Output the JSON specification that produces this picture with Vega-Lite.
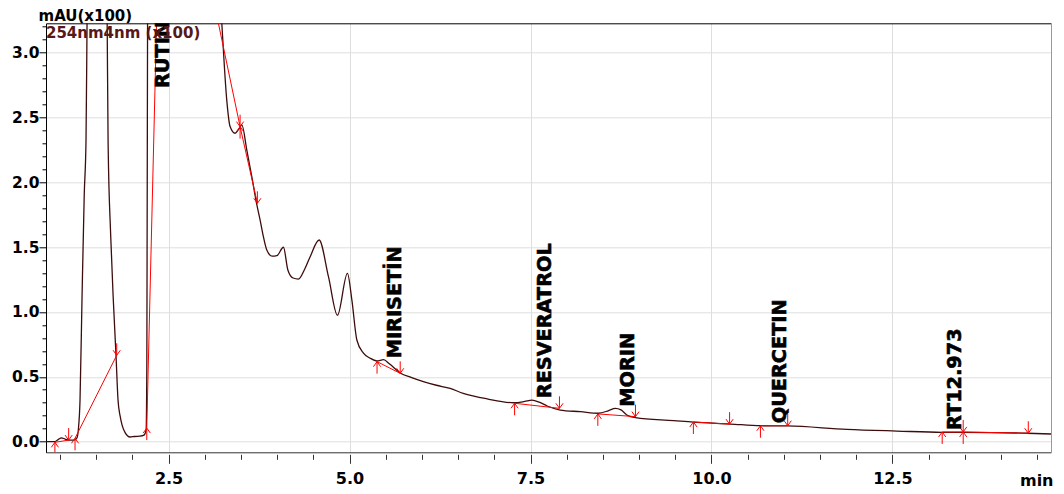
{
  "$schema": "https://vega.github.io/schema/vega-lite/v6.json",
  "autosize": {"type": "none"},
  "padding": {"left": 46, "top": 23.3, "right": 13, "bottom": 41.7},
  "width": 1005,
  "height": 429,
  "background": "white",
  "title": {
    "text": "254nm4nm (x100)",
    "anchor": "start",
    "frame": "group",
    "color": "#561818",
    "font": "DejaVu Sans",
    "fontSize": 15,
    "fontWeight": "bold",
    "offset": -32
  },
  "config": {
    "view": {"stroke": null},
    "axis": {
      "labelFont": "DejaVu Sans",
      "labelFontSize": 15.5,
      "labelFontWeight": "bold",
      "labelColor": "black",
      "titleFont": "DejaVu Sans",
      "titleFontSize": 15,
      "titleFontWeight": "bold",
      "titleColor": "black",
      "gridColor": "#dedede",
      "gridWidth": 1
    }
  },
  "datasets": {
    "trace": [
      {"t": 0.807, "v": 0.0}, {"t": 0.93, "v": 0.0}, {"t": 0.98, "v": 0.018}, {"t": 1.02, "v": 0.03},
      {"t": 1.07, "v": 0.02}, {"t": 1.12, "v": 0.012}, {"t": 1.19, "v": 0.012}, {"t": 1.235, "v": 0.03},
      {"t": 1.255, "v": 0.1}, {"t": 1.277, "v": 0.32}, {"t": 1.304, "v": 1.09}, {"t": 1.335, "v": 1.9},
      {"t": 1.36, "v": 2.33}, {"t": 1.374, "v": 3.23}, {"t": 1.4, "v": 5.0}, {"t": 1.51, "v": 8.5},
      {"t": 1.62, "v": 5.0}, {"t": 1.652, "v": 3.23}, {"t": 1.665, "v": 2.3}, {"t": 1.7, "v": 1.6},
      {"t": 1.737, "v": 1.09}, {"t": 1.774, "v": 0.667}, {"t": 1.802, "v": 0.32}, {"t": 1.83, "v": 0.2},
      {"t": 1.857, "v": 0.13}, {"t": 1.9, "v": 0.07}, {"t": 1.968, "v": 0.036}, {"t": 2.03, "v": 0.04},
      {"t": 2.106, "v": 0.042}, {"t": 2.16, "v": 0.05}, {"t": 2.19, "v": 0.09}, {"t": 2.2, "v": 0.6},
      {"t": 2.21, "v": 3.23}, {"t": 2.25, "v": 7.0}, {"t": 2.4, "v": 12.0}, {"t": 2.6, "v": 11.0},
      {"t": 2.8, "v": 8.0}, {"t": 3.0, "v": 5.5}, {"t": 3.15, "v": 4.0}, {"t": 3.235, "v": 3.23},
      {"t": 3.304, "v": 2.634}, {"t": 3.35, "v": 2.43}, {"t": 3.419, "v": 2.378}, {"t": 3.47, "v": 2.41},
      {"t": 3.512, "v": 2.442}, {"t": 3.581, "v": 2.249}, {"t": 3.65, "v": 2.043}, {"t": 3.72, "v": 1.825},
      {"t": 3.765, "v": 1.709}, {"t": 3.81, "v": 1.581}, {"t": 3.857, "v": 1.478}, {"t": 3.93, "v": 1.43},
      {"t": 3.996, "v": 1.434}, {"t": 4.087, "v": 1.499}, {"t": 4.148, "v": 1.324}, {"t": 4.22, "v": 1.262},
      {"t": 4.294, "v": 1.254}, {"t": 4.38, "v": 1.33}, {"t": 4.456, "v": 1.426}, {"t": 4.58, "v": 1.555},
      {"t": 4.709, "v": 1.272}, {"t": 4.833, "v": 0.975}, {"t": 4.971, "v": 1.298}, {"t": 5.032, "v": 1.093},
      {"t": 5.101, "v": 0.784}, {"t": 5.192, "v": 0.682}, {"t": 5.28, "v": 0.645}, {"t": 5.378, "v": 0.622},
      {"t": 5.47, "v": 0.632}, {"t": 5.55, "v": 0.6}, {"t": 5.7, "v": 0.53}, {"t": 5.85, "v": 0.495},
      {"t": 6.02, "v": 0.463}, {"t": 6.2, "v": 0.435}, {"t": 6.39, "v": 0.41}, {"t": 6.57, "v": 0.373},
      {"t": 6.9, "v": 0.33}, {"t": 7.27, "v": 0.3}, {"t": 7.42, "v": 0.31}, {"t": 7.52, "v": 0.32},
      {"t": 7.62, "v": 0.305}, {"t": 7.73, "v": 0.275}, {"t": 7.91, "v": 0.244}, {"t": 8.19, "v": 0.231},
      {"t": 8.44, "v": 0.219}, {"t": 8.58, "v": 0.24}, {"t": 8.67, "v": 0.257}, {"t": 8.75, "v": 0.245},
      {"t": 8.83, "v": 0.206}, {"t": 8.95, "v": 0.185}, {"t": 9.48, "v": 0.162}, {"t": 9.75, "v": 0.15},
      {"t": 10.26, "v": 0.136}, {"t": 10.68, "v": 0.123}, {"t": 11.05, "v": 0.121}, {"t": 11.87, "v": 0.095},
      {"t": 12.56, "v": 0.082}, {"t": 13.19, "v": 0.072}, {"t": 13.48, "v": 0.072}, {"t": 14.36, "v": 0.065},
      {"t": 14.69, "v": 0.059}
    ],
    "baselines": [
      {"seg": "a", "t": 0.93, "v": -0.005}, {"seg": "a", "t": 1.12, "v": 0.012},
      {"seg": "b", "t": 1.208, "v": 0.026}, {"seg": "b", "t": 1.784, "v": 0.666},
      {"seg": "c", "t": 2.199, "v": 0.105}, {"seg": "c", "t": 2.423, "v": 5.264},
      {"seg": "c", "t": 3.488, "v": 2.429}, {"seg": "c", "t": 3.727, "v": 1.838},
      {"seg": "d", "t": 5.38, "v": 0.617}, {"seg": "d", "t": 5.7, "v": 0.527},
      {"seg": "e", "t": 7.28, "v": 0.296}, {"seg": "e", "t": 7.9, "v": 0.257},
      {"seg": "f", "t": 8.43, "v": 0.214}, {"seg": "f", "t": 8.95, "v": 0.193},
      {"seg": "g", "t": 9.75, "v": 0.152}, {"seg": "g", "t": 10.25, "v": 0.135},
      {"seg": "h", "t": 10.676, "v": 0.123}, {"seg": "h", "t": 11.053, "v": 0.123},
      {"seg": "i", "t": 13.187, "v": 0.075}, {"seg": "i", "t": 13.477, "v": 0.075}, {"seg": "i", "t": 14.376, "v": 0.065}
    ],
    "marks": [
      {"t": 0.93, "v": -0.005, "kind": "start"}, {"t": 1.12, "v": 0.012, "kind": "end"},
      {"t": 1.208, "v": 0.026, "kind": "start"}, {"t": 1.784, "v": 0.666, "kind": "end"},
      {"t": 2.199, "v": 0.105, "kind": "start"}, {"t": 2.423, "v": 5.264, "kind": "end"},
      {"t": 2.423, "v": 5.264, "kind": "start"}, {"t": 3.488, "v": 2.429, "kind": "end"},
      {"t": 3.488, "v": 2.429, "kind": "start"}, {"t": 3.727, "v": 1.838, "kind": "end"},
      {"t": 5.38, "v": 0.617, "kind": "start"}, {"t": 5.7, "v": 0.527, "kind": "end"},
      {"t": 7.28, "v": 0.296, "kind": "start"}, {"t": 7.9, "v": 0.257, "kind": "end"},
      {"t": 8.43, "v": 0.214, "kind": "start"}, {"t": 8.95, "v": 0.193, "kind": "end"},
      {"t": 9.75, "v": 0.152, "kind": "start"}, {"t": 10.25, "v": 0.135, "kind": "end"},
      {"t": 10.676, "v": 0.123, "kind": "start"}, {"t": 11.053, "v": 0.123, "kind": "end"},
      {"t": 13.187, "v": 0.075, "kind": "start"}, {"t": 13.477, "v": 0.075, "kind": "end"},
      {"t": 13.477, "v": 0.075, "kind": "start"}, {"t": 14.376, "v": 0.065, "kind": "end"}
    ],
    "peaks": [
      {"name": "RUTIN", "t": 2.417, "v": 2.727},
      {"name": "MIRISETİN", "t": 5.63, "v": 0.643},
      {"name": "RESVERATROL", "t": 7.694, "v": 0.335},
      {"name": "MORIN", "t": 8.841, "v": 0.27},
      {"name": "QUERCETIN", "t": 10.952, "v": 0.142},
      {"name": "RT12.973", "t": 13.357, "v": 0.09}
    ]
  },
  "resolve": {"axis": {"x": "independent", "y": "independent"}},
  "layer": [
    {
      "data": {"name": "trace"},
      "mark": {"type": "line", "color": "#3d0c0c", "strokeWidth": 1.3, "interpolate": "monotone", "clip": true},
      "encoding": {
        "x": {
          "field": "t", "type": "quantitative",
          "scale": {"domain": [0.807, 14.69], "nice": false, "zero": false},
          "axis": {
            "orient": "bottom", "values": [2.5, 5, 7.5, 10, 12.5], "format": ".1f",
            "offset": 2, "tickSize": 9, "labelPadding": 6.8, "labelFontSize": 16, "grid": true,
            "domain": false, "tickColor": "#333333",
            "title": "min", "titleFontSize": 16, "titleX": 1007, "titleY": 30.7, "titleAlign": "right",
            "titleBaseline": "alphabetic", "titleAngle": 0
          }
        },
        "y": {
          "field": "v", "type": "quantitative",
          "scale": {"domain": [-0.082, 3.226], "nice": false, "zero": false},
          "axis": {
            "orient": "left", "values": [0, 0.5, 1, 1.5, 2, 2.5, 3], "format": ".1f",
            "tickSize": 7, "labelPadding": 0, "grid": true,
            "domainColor": "black", "tickColor": "black",
            "title": "mAU(x100)", "titleX": -8, "titleY": -2.6, "titleAngle": 0,
            "titleAlign": "left", "titleBaseline": "alphabetic"
          }
        }
      }
    },
    {
      "data": {"name": "baselines"},
      "mark": {"type": "line", "color": "#ff0000", "strokeWidth": 1, "clip": true},
      "encoding": {
        "x": {
          "field": "t", "type": "quantitative",
          "scale": {"domain": [0.807, 14.69], "nice": false, "zero": false},
          "axis": {
            "orient": "bottom",
            "values": [1, 1.5, 2, 3, 3.5, 4, 4.5, 5.5, 6, 6.5, 7, 8, 8.5, 9, 9.5, 10.5, 11, 11.5, 12, 13, 13.5, 14, 14.5],
            "offset": 2, "tickSize": 5, "labels": false, "domain": false, "grid": false, "title": null,
            "tickColor": "#333333"
          }
        },
        "y": {
          "field": "v", "type": "quantitative",
          "scale": {"domain": [-0.082, 3.226], "nice": false, "zero": false},
          "axis": {
            "orient": "left",
            "values": [0.1, 0.2, 0.3, 0.4, 0.6, 0.7, 0.8, 0.9, 1.1, 1.2, 1.3, 1.4, 1.6, 1.7, 1.8, 1.9, 2.1, 2.2, 2.3, 2.4, 2.6, 2.7, 2.8, 2.9, 3.1, 3.2],
            "tickSize": 4, "labels": false, "domain": false, "grid": false, "title": null,
            "tickColor": "black"
          }
        },
        "detail": {"field": "seg", "type": "nominal"}
      }
    },
    {
      "data": {"name": "marks"},
      "mark": {"type": "point", "filled": false, "color": "#ff0000", "strokeWidth": 1, "size": 576, "opacity": 1, "clip": true},
      "encoding": {
        "x": {
          "field": "t", "type": "quantitative",
          "scale": {"domain": [0.807, 14.69], "nice": false, "zero": false},
          "axis": {"orient": "top", "domain": true, "domainColor": "black", "ticks": false, "labels": false, "grid": false, "title": null}
        },
        "y": {
          "field": "v", "type": "quantitative",
          "scale": {"domain": [-0.082, 3.226], "nice": false, "zero": false},
          "axis": {"orient": "right", "domain": true, "domainColor": "#999999", "ticks": false, "labels": false, "grid": false, "title": null}
        },
        "shape": {
          "field": "kind", "type": "nominal",
          "scale": {
            "domain": ["start", "end"],
            "range": ["M0,0L0,1M-0.3,0.42L0,0L0.3,0.42", "M0,0L0,-1M-0.3,-0.42L0,0L0.3,-0.42"]
          },
          "legend": null
        }
      }
    },
    {
      "data": {"name": "peaks"},
      "mark": {
        "type": "text", "angle": 270, "align": "left", "baseline": "middle",
        "font": "DejaVu Sans", "fontSize": 19.3, "fontWeight": "bold", "color": "black",
        "stroke": "black", "strokeWidth": 0.6, "clip": true
      },
      "encoding": {
        "x": {
          "field": "t", "type": "quantitative",
          "scale": {"domain": [0.807, 14.69], "nice": false, "zero": false},
          "axis": {"orient": "bottom", "domain": true, "domainColor": "#333333", "ticks": false, "labels": false, "grid": false, "title": null}
        },
        "y": {"field": "v", "type": "quantitative", "scale": {"domain": [-0.082, 3.226], "nice": false, "zero": false}, "axis": null},
        "text": {"field": "name", "type": "nominal"}
      }
    }
  ]
}
